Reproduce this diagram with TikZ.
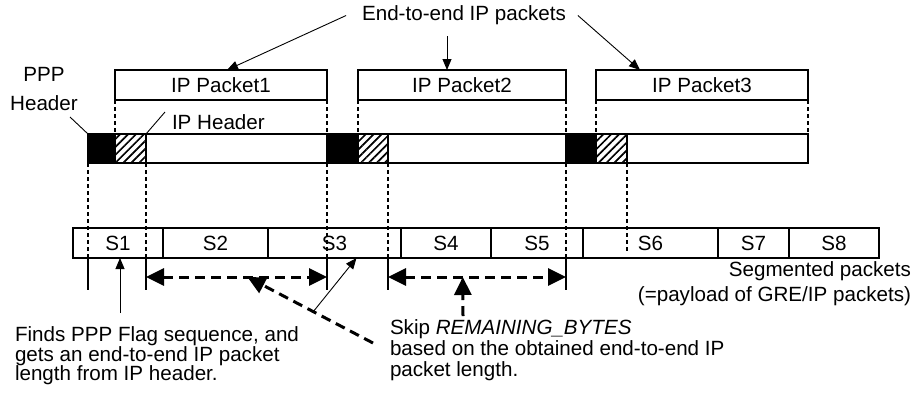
\documentclass[tikz,border=0pt]{standalone}
\usepackage{fontspec}
\setmainfont{Liberation Sans}
\usetikzlibrary{arrows.meta,patterns.meta,calc}
\newcommand\myfs[1]{\fontsize{20.6}{#1}\selectfont}
\tikzset{skiptip/.tip={Triangle[length=18pt,width=17pt]}}
\begin{document}
\begin{tikzpicture}[x=1pt,y=-1pt,
  every node/.style={inner sep=0pt, outer sep=0pt, font=\myfs{20}},
  pkt/.style={draw, line width=1.3pt, minimum height=30pt, anchor=north west},
  barcell/.style={draw, line width=1.3pt, minimum height=29pt, anchor=north west},
  seg/.style={draw, line width=1.3pt, minimum height=30pt, anchor=north west},
  hatch/.style={pattern={Lines[angle=45,distance=5.6pt,line width=1.7pt]}},
  guide/.style={line width=1.2pt, dash pattern=on 4pt off 3pt},
  tick/.style={line width=1.2pt},
  thinarr/.style={line width=0.9pt, -{Triangle[length=11pt,width=9pt]}},
  skiparr/.style={line width=3pt, dash pattern=on 10pt off 6pt}
]
\useasboundingbox (0,0) rectangle (915,397);

% top IP packets
\node[pkt, minimum width=212pt] (p1) at (115,70) {};
\node at (p1.center) {IP Packet1};
\node[pkt, minimum width=208pt] (p2) at (358,70) {};
\node at (p2.center) {IP Packet2};
\node[pkt, minimum width=212pt] (p3) at (596,70) {};
\node at (p3.center) {IP Packet3};

\node (title) at (464,15.5) {End-to-end IP packets};
\draw[thinarr] ([xshift=-16pt]title.west) -- ([xshift=6pt]p1.north);
\draw[thinarr] ([xshift=-17pt,yshift=-11pt]title.south) -- ([xshift=-15pt]p2.north);
\draw[thinarr] ([xshift=12pt]title.east) -- ([xshift=-62pt]p3.north);

% PPP stream
\node[barcell, fill=black, minimum width=27pt] (ppp1) at (88,134) {};
\node[barcell, hatch, minimum width=31pt] (iph1) at (115,134) {};
\node[barcell, minimum width=181pt] (pay1) at (146,134) {};
\node[barcell, fill=black, minimum width=31pt] (ppp2) at (327,134) {};
\node[barcell, hatch, minimum width=30pt] (iph2) at (358,134) {};
\node[barcell, minimum width=178pt] (pay2) at (388,134) {};
\node[barcell, fill=black, minimum width=30pt] (ppp3) at (566,134) {};
\node[barcell, hatch, minimum width=31pt] (iph3) at (596,134) {};
\node[barcell, minimum width=181pt] (pay3) at (627,134) {};

\node[align=center, font=\myfs{29}] (ppplbl) at (44,89) {PPP\\Header};
\coordinate (ppptail) at (70,117);
\draw[line width=0.9pt] (ppptail) -- (ppp1.north west);
\node[anchor=west] (iphlbl) at (172,122) {IP Header};
\coordinate (iphtail) at (165,112);
\draw[line width=0.9pt] (iphtail) -- (iph1.north east);

% guides from packets to stream
\draw[guide] (p1.south west) -- (iph1.north west);
\draw[guide] (p1.south east) -- (ppp2.north west);
\draw[guide] (p2.south west) -- (iph2.north west);
\draw[guide] (p2.south east) -- (ppp3.north west);
\draw[guide] (p3.south west) -- (iph3.north west);
\draw[guide] (p3.south east) -- (pay3.north east);

% segments
\node[seg, minimum width=90pt] (s1) at (73,228) {};
\node[seg, minimum width=105pt] (s2) at (163,228) {};
\node[seg, minimum width=133pt] (s3) at (268,228) {};
\node[seg, minimum width=90pt] (s4) at (401,228) {};
\node[seg, minimum width=92pt] (s5) at (491,228) {};
\node[seg, minimum width=135pt] (s6) at (583,228) {};
\node[seg, minimum width=71pt] (s7) at (718,228) {};
\node[seg, minimum width=90pt] (s8) at (789,228) {};
\draw[line width=2.6pt] (s6.north west) -- (s6.south west);
\foreach \s/\t in {s1/S1,s2/S2,s3/S3,s4/S4,s5/S5,s6/S6,s7/S7,s8/S8}
  \node at (\s.center) {\t};

\node[align=right, anchor=north east, font=\myfs{25}] (seglbl) at (911,262) {Segmented packets\\(=payload of GRE/IP packets)};

% guides from stream to segments
\foreach \n/\a/\c in {ppp1/south west/g1, iph1/south east/g2, ppp2/south west/g3, iph2/south east/g4, ppp3/south west/g5}{
  \coordinate (\c top) at (\n.\a);
  \coordinate (\c mid) at (\c top |- s1.south);
  \coordinate (\c end) at ([yshift=-32pt]\c mid);
  \draw[guide] (\c top) -- (\c mid);
  \draw[tick] (\c mid) -- (\c end);
}
\coordinate (g6end) at ([yshift=6pt]iph3.south east |- s1.south);
\draw[guide] (iph3.south east) -- (g6end);

% skip arrows
\coordinate (a1) at ([yshift=-19pt]g2mid);
\coordinate (b1) at ([yshift=-19pt]g3mid);
\coordinate (a2) at ([yshift=-19pt]g4mid);
\coordinate (b2) at ([yshift=-19pt]g5mid);
\draw[skiparr, skiptip-skiptip] (a1) -- (b1);
\draw[skiparr, skiptip-skiptip] (a2) -- (b2);

% bottom texts
\node[align=left, anchor=north west, font=\myfs{19.5}] (finds) at (15,327) {Finds PPP Flag sequence, and\\gets an end-to-end IP packet\\length from IP header.};
\node[align=left, anchor=north west, font=\myfs{21}] (skip) at (390,320) {Skip \textit{REMAINING\_BYTES}\\based on the obtained end-to-end IP\\packet length.};

\coordinate (findtail) at (120,313);
\draw[thinarr] (findtail) -- (findtail |- s1.south);
\coordinate (s3tail) at (313,312);
\draw[thinarr] (s3tail) -- ([xshift=22pt]s3.south);

\coordinate (skiptail) at (373,343);
\draw[skiparr, -skiptip] (skiptail) -- ($(a1)!0.56!(b1)$);
\coordinate (skipup) at (463,316);
\draw[skiparr, -skiptip] (skipup) -- ($(a2)!0.42!(b2)$);
\end{tikzpicture}
\end{document}
